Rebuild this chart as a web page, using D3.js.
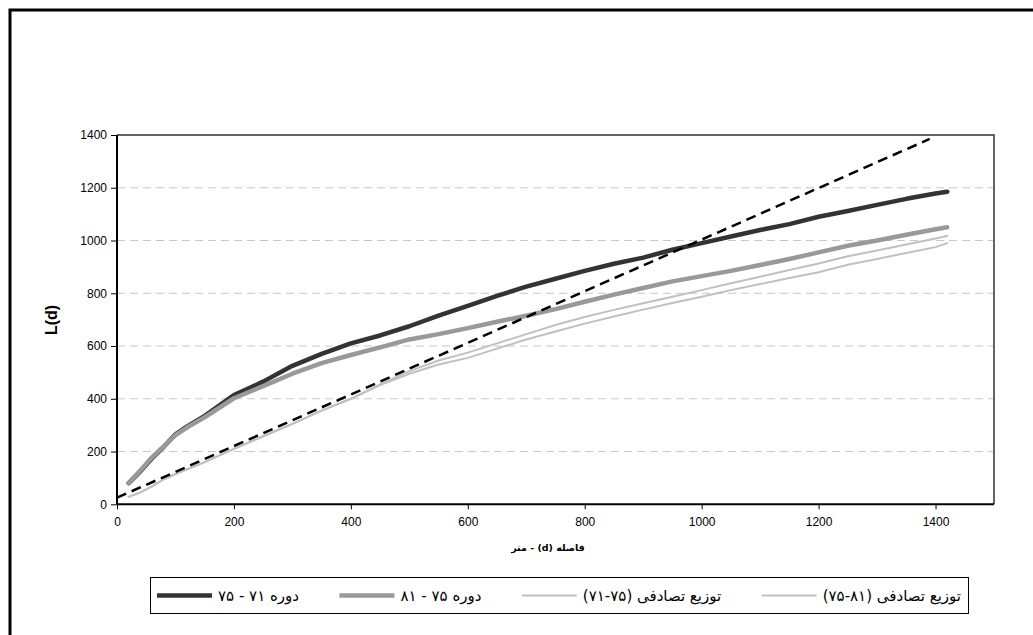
<!DOCTYPE html>
<html><head><meta charset="utf-8">
<script src="https://cdn.jsdelivr.net/npm/d3@7"></script>
<style>body{margin:0;background:#fff}</style>
</head><body>
<svg id="c" width="1033" height="635"></svg>
<script>
// ---- data ----
const xTicks = [0,200,400,600,800,1000,1200,1400];
const yTicks = [0,200,400,600,800,1000,1200,1400];
const seriesNames = ["دوره ۷۱ - ۷۵","دوره ۷۵ - ۸۱","توزیع تصادفی (۷۵-۷۱)","توزیع تصادفی (۸۱-۷۵)"];
const dA = [20,40,60,80,100,120,150,200,250,300,350,400,450,500,550,600,650,700,750,800,850,900,950,1000,1050,1100,1150,1200,1250,1300,1350,1400,1420];
const period7175 = [80,125,175,218,265,295,335,414,465,525,570,610,640,675,715,752,790,825,855,885,912,935,965,990,1015,1040,1062,1090,1112,1135,1158,1178,1185];
const period7581 = [80,128,178,220,262,292,330,402,448,495,535,566,595,625,645,668,692,715,740,768,795,820,845,865,885,907,930,955,980,1000,1022,1043,1050];
const dR = [20,40,60,80,100,150,200,250,300,350,400,450,500,550,600,650,700,750,800,850,900,950,1000,1050,1100,1150,1200,1250,1300,1350,1400,1420];
const random7175 = [28,45,68,95,115,160,210,258,305,355,400,455,505,545,575,610,645,680,710,737,762,787,812,838,863,888,913,940,962,985,1008,1017];
const random7581 = [28,45,68,95,115,160,210,258,305,355,400,452,495,530,555,590,625,655,685,712,738,763,787,812,835,858,880,908,930,953,975,990];
const refD = [0,1390];
const refL = [25,1385];

const svg = d3.select("#c");
svg.append("rect").attr("width",1033).attr("height",635).attr("fill","#fff");
// outer frame
svg.append("path").attr("d","M10,635 L10,10 L1033,10").attr("fill","none").attr("stroke","#000").attr("stroke-width",3);

const x = d3.scaleLinear().domain([0,1500]).range([117,994]);
const y = d3.scaleLinear().domain([0,1400]).range([504.3,135]);

// gridlines
svg.append("g").selectAll("line").data(yTicks.filter(v=>v>0&&v<1400)).join("line")
  .attr("x1",117).attr("x2",994).attr("y1",d=>y(d)).attr("y2",d=>y(d))
  .attr("stroke","#c8c8c8").attr("stroke-width",1).attr("stroke-dasharray","8,5");

// plot frame (top/right)
svg.append("path").attr("d",`M${x(0)},${y(1400)} L${x(1500)},${y(1400)} L${x(1500)},${y(0)}`)
  .attr("fill","none").attr("stroke","#333").attr("stroke-width",1.5);

// axes
const fmt = d3.format("d");
const yAxis = d3.axisLeft(y).tickValues(yTicks).tickFormat(fmt).tickSize(6).tickPadding(4);
const gy = svg.append("g").attr("transform",`translate(${x(0)},0)`).call(yAxis);
const xAxis = d3.axisBottom(x).tickValues(xTicks).tickFormat(fmt).tickSize(5).tickPadding(8);
const gx = svg.append("g").attr("transform",`translate(0,${y(0)})`).call(xAxis);
[gx,gy].forEach(g=>{
  g.select(".domain").attr("stroke","#000").attr("stroke-width",2);
  g.selectAll(".tick line").attr("stroke","#000").attr("stroke-width",1);
  g.selectAll("text").attr("font-family","Liberation Sans, Arial, sans-serif").attr("font-size",12).attr("fill","#000");
});
gx.select(".domain").attr("d",`M${x(0)},0H${x(1500)}`);
gy.select(".domain").attr("d",`M0,${y(0)}V${y(1400)}`);

// titles
svg.append("text").attr("transform","translate(57,320) rotate(-90)").attr("text-anchor","middle")
  .attr("font-family","Liberation Sans, Arial, sans-serif").attr("font-weight","bold").attr("font-size",16).text("L(d)");
svg.append("text").attr("x",548).attr("y",551).attr("text-anchor","middle").attr("direction","rtl")
  .attr("font-family","DejaVu Sans, sans-serif").attr("font-weight","bold").attr("font-size",9.5).text("فاصله (d) - متر");

// lines
const line = d3.line().x(d=>x(d[0])).y(d=>y(d[1]));
const styles = [
  {stroke:"#333333",w:4.5},
  {stroke:"#999999",w:4.5},
  {stroke:"#c0c0c0",w:2},
  {stroke:"#c0c0c0",w:2}
];
const seriesData = [
  dA.map((d,i)=>[d,period7175[i]]),
  dA.map((d,i)=>[d,period7581[i]]),
  dR.map((d,i)=>[d,random7175[i]]),
  dR.map((d,i)=>[d,random7581[i]])
];
seriesData.forEach((s,i)=>{
  svg.append("path").attr("d",line(s)).attr("fill","none").attr("stroke",styles[i].stroke)
    .attr("stroke-width",styles[i].w).attr("stroke-linejoin","round").attr("stroke-linecap","round");
});
svg.append("path").attr("d",line(refD.map((d,i)=>[d,refL[i]]))).attr("fill","none")
  .attr("stroke","#000").attr("stroke-width",2.5).attr("stroke-dasharray","10,6");

// legend
const lg = svg.append("g");
lg.append("rect").attr("x",150.5).attr("y",577.5).attr("width",818).attr("height",36)
  .attr("fill","#fff").attr("stroke","#000").attr("stroke-width",1);
const lineLen = 55, lineGap = 6, startX = 157, endX = 961;
// measure texts
const texts = seriesNames.map(name => lg.append("text").attr("y",601).attr("direction","rtl").attr("text-anchor","end")
    .attr("font-family","DejaVu Sans, sans-serif").attr("font-size",15).text(name));
const widths = texts.map(t=>t.node().getComputedTextLength());
const used = widths.reduce((a,b)=>a+b,0) + seriesNames.length*(lineLen+lineGap);
const gap = (endX - startX - used)/(seriesNames.length-1);
let cx = startX;
seriesNames.forEach((name,i)=>{
  lg.append("line").attr("x1",cx).attr("x2",cx+lineLen).attr("y1",595.5).attr("y2",595.5)
    .attr("stroke",styles[i].stroke).attr("stroke-width",styles[i].w);
  texts[i].attr("x",cx+lineLen+lineGap);
  cx = cx + lineLen + lineGap + widths[i] + gap;
});
</script>
</body></html>
